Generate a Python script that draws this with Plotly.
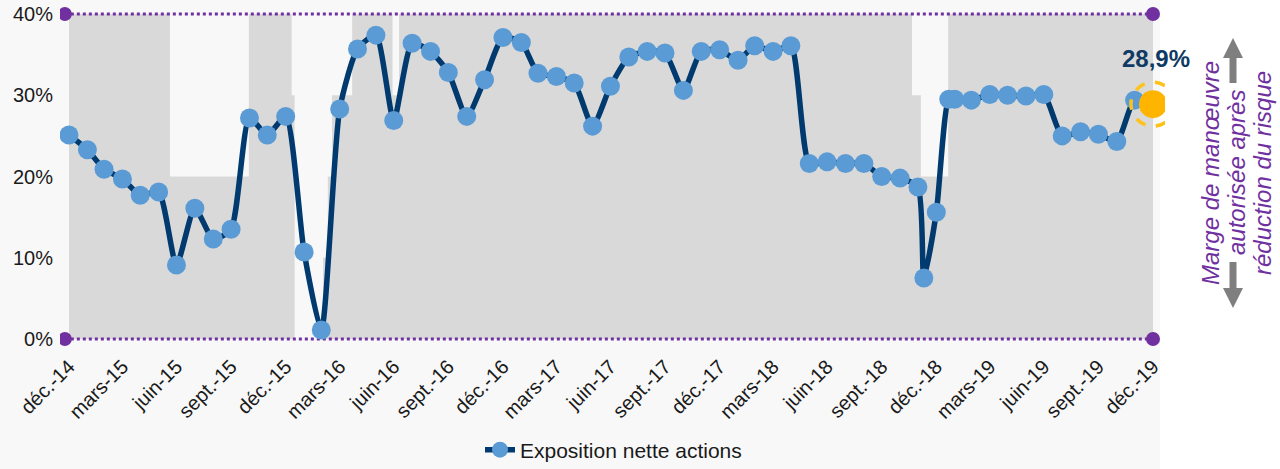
import pandas as pd
import plotly.graph_objects as go

# ---------------- data ----------------
start = pd.Timestamp("2014-12-31")
monthly_dates = [start + pd.offsets.MonthEnd(i) for i in range(61)]  # déc.-14 .. déc.-19
monthly_values = [
    25.1, 23.3, 20.9, 19.7, 17.7, 18.1, 9.1, 16.1, 12.3, 13.5, 27.2, 25.1,
    27.4, 10.7, 1.1, 28.3, 35.7, 37.4, 26.9, 36.4, 35.4, 32.8, 27.4, 31.9,
    37.1, 36.5, 32.7, 32.3, 31.5, 26.2, 31.1, 34.7, 35.4, 35.2, 30.6, 35.4,
    35.6, 34.3, 36.1, 35.4, 36.1, 21.6, 21.8, 21.6, 21.6, 20.0, 19.8, 18.7,
    15.6, 29.5, 29.4, 30.1, 30.0, 29.9, 30.1, 25.0, 25.5, 25.2, 24.3, 29.4,
    28.9,
]
extra_dates = ["2018-12-10", "2019-01-21"]
extra_values = [7.5, 29.5]

band_dates = ["2014-12-31", "2015-06-19", "2015-10-30", "2016-01-10", "2016-01-15",
              "2016-03-03", "2016-03-11", "2016-03-18", "2016-04-21", "2016-06-28",
              "2016-07-09", "2018-11-20", "2018-12-05", "2019-01-20", "2019-12-31"]
band_limits = [40, 20, 40, 30, 0, 10, 20, 30, 40, 30, 40, 30, 20, 40, 40]

limit_low, limit_high = 0, 40
limit_dates = ["2014-12-24", "2019-12-31"]
tick_dates = [start + pd.offsets.MonthEnd(3 * i) for i in range(21)]
tick_labels = ["déc.-14", "mars-15", "juin-15", "sept.-15", "déc.-15", "mars-16", "juin-16",
               "sept.-16", "déc.-16", "mars-17", "juin-17", "sept.-17", "déc.-17", "mars-18",
               "juin-18", "sept.-18", "déc.-18", "mars-19", "juin-19", "sept.-19", "déc.-19"]
y_ticks = [0, 10, 20, 30, 40]
last_label = "28,9%"

# merge series
series = sorted(list(zip(monthly_dates, monthly_values)) +
                [(pd.Timestamp(d), v) for d, v in zip(extra_dates, extra_values)])
x_vals = [d for d, _ in series]
y_vals = [v for _, v in series]

# ---------------- layout geometry ----------------
W, H = 1280, 469
L, R, T, B = 60, 1165, 5, 350
X_FIRST, X_LAST = 69, 1153
Y0_PX, Y40_PX = 339, 14
ppd = (X_LAST - X_FIRST) / (monthly_dates[-1] - monthly_dates[0]).days
x_range = [monthly_dates[0] - pd.Timedelta(days=(X_FIRST - L) / ppd),
           monthly_dates[-1] + pd.Timedelta(days=(R - X_LAST) / ppd)]
ppv = (Y0_PX - Y40_PX) / 40.0
y_range = [(Y0_PX - B) / ppv, (Y0_PX - T) / ppv]


def px_x(p):
    return (p - L) / (R - L)


def px_y(p):
    return (B - p) / (B - T)


FONT = "Liberation Sans, Arial, sans-serif"
NAVY = "#003A6E"
PURPLE = "#7030A0"

fig = go.Figure()

# gray allowed band
fig.add_trace(go.Scatter(
    x=band_dates, y=band_limits, mode="lines", line=dict(shape="hv", width=0, color="#D9D9D9"),
    fill="tozeroy", fillcolor="#D9D9D9", showlegend=False, hoverinfo="skip"))

# purple limits
for lvl in (limit_low, limit_high):
    fig.add_trace(go.Scatter(
        x=limit_dates, y=[lvl, lvl], mode="lines",
        line=dict(color=PURPLE, width=3, dash="dot"), showlegend=False, hoverinfo="skip"))
    fig.add_trace(go.Scatter(
        x=limit_dates, y=[lvl, lvl], mode="markers",
        marker=dict(color=PURPLE, size=14), showlegend=False, hoverinfo="skip"))

# exposure line
fig.add_trace(go.Scatter(
    x=x_vals, y=y_vals, mode="lines+markers", name="Exposition nette actions",
    line=dict(color=NAVY, width=5.5, shape="spline", smoothing=0.6),
    marker=dict(color="#5B9BD5", size=19, line=dict(width=0))))

# highlight last point
fig.add_trace(go.Scatter(
    x=[x_vals[-1]], y=[y_vals[-1]], mode="markers",
    marker=dict(color="#FFB400", size=28), showlegend=False, hoverinfo="skip"))

shapes = []
# background panel
shapes.append(dict(type="rect", xref="paper", yref="paper", x0=px_x(0), x1=px_x(1160),
                   y0=px_y(H), y1=px_y(0), fillcolor="#F8F8F8", line=dict(width=0), layer="below"))
# dashed ring
shapes.append(dict(type="circle", xref="x", yref="y", xsizemode="pixel", ysizemode="pixel",
                   xanchor=x_vals[-1], yanchor=y_vals[-1], x0=-22, x1=22, y0=-22, y1=22,
                   line=dict(color="#FFC21A", width=3.5, dash="dash"), layer="above"))


def arrow_path(cx, tail, tip, shaft_w=7, head_w=20, head_h=20):
    d = 1 if tip > tail else -1
    base = tip - d * head_h
    pts = [(cx - shaft_w / 2, tail), (cx - shaft_w / 2, base), (cx - head_w / 2, base), (cx, tip),
           (cx + head_w / 2, base), (cx + shaft_w / 2, base), (cx + shaft_w / 2, tail)]
    return "M " + " L ".join(f"{px_x(a):.5f},{px_y(b):.5f}" for a, b in pts) + " Z"


for tail, tip in ((83, 38), (262, 308)):
    shapes.append(dict(type="path", xref="paper", yref="paper", path=arrow_path(1233, tail, tip),
                       fillcolor="#7F7F7F", line=dict(width=0), layer="above"))

annotations = [
    dict(x=x_vals[-1], y=y_vals[-1], xref="x", yref="y", text=f"<b>{last_label}</b>",
         showarrow=False, yshift=46, xshift=3, font=dict(family=FONT, size=24, color="#0E3A64")),
]
for txt, cx in (("Marge de manœuvre", 1210), ("autorisée après", 1236), ("réduction du risque", 1262)):
    annotations.append(dict(x=px_x(cx), y=px_y(173), xref="paper", yref="paper",
                            text=f"<i>{txt}</i>", textangle=-90, showarrow=False,
                            xanchor="center", yanchor="middle",
                            font=dict(family=FONT, size=24, color=PURPLE)))

fig.update_layout(
    width=W, height=H,
    margin=dict(l=L, r=W - R, t=T, b=H - B, pad=0, autoexpand=False),
    paper_bgcolor="white", plot_bgcolor="rgba(0,0,0,0)",
    font=dict(family=FONT, color="#1A1A1A"),
    xaxis=dict(type="date", range=x_range, tickvals=tick_dates, ticktext=tick_labels,
               tickangle=-45, showgrid=False, zeroline=False, showline=False, automargin=False,
               tickfont=dict(size=20, family=FONT, color="#1A1A1A")),
    yaxis=dict(range=y_range, tickvals=y_ticks, ticktext=[f"{v}%" for v in y_ticks],
               showgrid=False, zeroline=False, showline=False, ticklabelstandoff=6, automargin=False,
               tickfont=dict(size=20, family=FONT, color="#1A1A1A")),
    legend=dict(orientation="h", x=px_x(480), xanchor="left", y=px_y(450), yanchor="middle",
                bgcolor="rgba(0,0,0,0)", font=dict(size=21, family=FONT, color="#1A1A1A")),
    shapes=shapes, annotations=annotations,
    hovermode=False,
)

fig.write_html("out.html", config={"displayModeBar": False},
               post_script="document.body.style.margin='0px';")
